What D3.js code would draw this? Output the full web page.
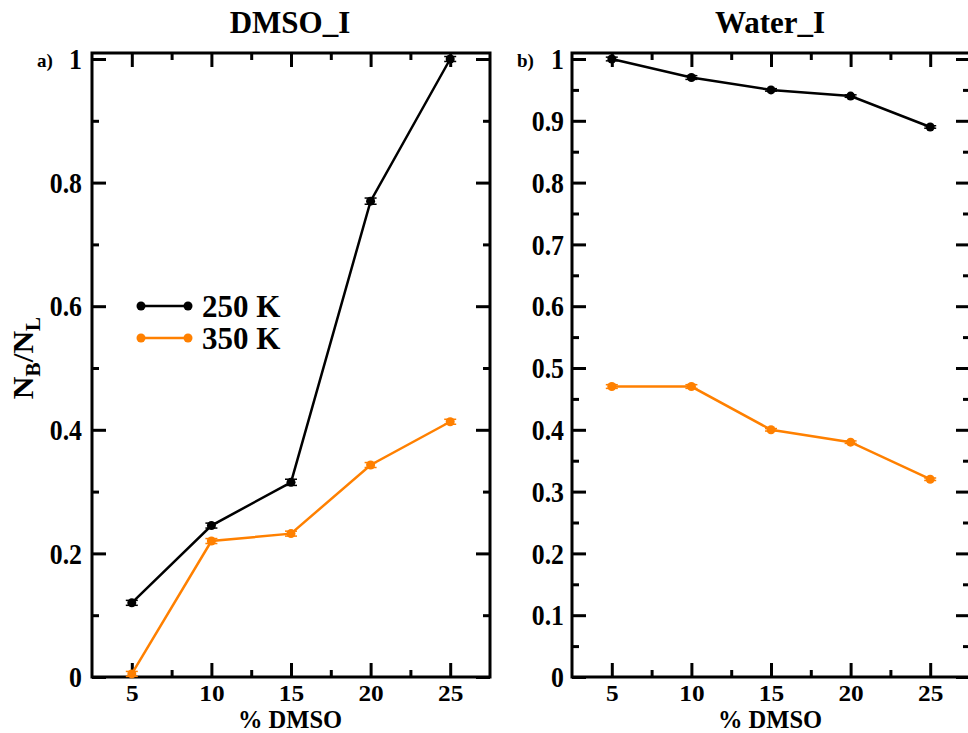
<!DOCTYPE html>
<html>
<head>
<meta charset="utf-8">
<script src="https://cdn.jsdelivr.net/npm/d3@7"></script>
<style>
  html, body { margin: 0; padding: 0; background: #fff; }
  svg { display: block; }
  text { font-family: "Liberation Serif", "Times New Roman", serif; font-weight: bold; fill: #000; }
</style>
</head>
<body>
<svg id="chart" width="968" height="733"></svg>
<script>
// ---- data ----
const dmsoPct = [5, 10, 15, 20, 25];
const seriesNames = ["250 K", "350 K"];
const seriesColors = ["#000000", "#ff8000"];
const dmsoI_250 = [0.12, 0.245, 0.315, 0.77, 1.0];
const dmsoI_350 = [0.005, 0.22, 0.232, 0.343, 0.413];
const dmsoI_250_err = [0.004, 0.004, 0.005, 0.005, 0.004];
const dmsoI_350_err = [0.004, 0.004, 0.004, 0.004, 0.004];
const waterI_250 = [1.0, 0.97, 0.95, 0.94, 0.89];
const waterI_350 = [0.47, 0.47, 0.40, 0.38, 0.32];
const waterI_250_err = [0.003, 0.003, 0.002, 0.002, 0.002];
const waterI_350_err = [0.003, 0.003, 0.002, 0.002, 0.002];
const xMajorTicks = [5, 10, 15, 20, 25];
const xMinorTicks = [7.5, 12.5, 17.5, 22.5];
const leftYMajor = [0, 0.2, 0.4, 0.6, 0.8, 1];
const leftYMinor = [0.1, 0.3, 0.5, 0.7, 0.9];
const rightYMajor = [0, 0.1, 0.2, 0.3, 0.4, 0.5, 0.6, 0.7, 0.8, 0.9, 1];
const rightYMinor = [0.05, 0.15, 0.25, 0.35, 0.45, 0.55, 0.65, 0.75, 0.85, 0.95];

const svg = d3.select("#chart");

const fmtY = d => d === 0 ? "0" : (d === 1 ? "1" : d3.format(".1f")(d));
const panels = [
  { title: "DMSO_I", tag: "a)", left: 92, series: [dmsoI_250, dmsoI_350], errs: [dmsoI_250_err, dmsoI_350_err],
    yMajor: leftYMajor, yMinor: leftYMinor, legend: true, pad: 10 },
  { title: "Water_I", tag: "b)", left: 572, series: [waterI_250, waterI_350], errs: [waterI_250_err, waterI_350_err],
    yMajor: rightYMajor, yMinor: rightYMinor, legend: false, pad: 8 }
];

const W = 398, plotTop = 53, plotBottom = 677;
const XSX = 1.1, YSX = 0.86;

panels.forEach(p => {
  const g = svg.append("g").attr("transform", `translate(${p.left},0)`);
  const x = d3.scaleLinear().domain([2.5, 27.5]).range([0, W]);
  const y = d3.scaleLinear().domain([0, 1.0097]).range([plotBottom, plotTop]);

  const styleAxis = sel => {
    sel.select(".domain").remove();
    sel.selectAll(".tick line").attr("stroke", "#000").attr("stroke-width", 3);
    sel.attr("font-family", null).attr("font-size", null);
  };

  const bx = g.append("g").attr("transform", `translate(0,${plotBottom})`)
    .call(d3.axisBottom(x).tickValues(xMajorTicks).tickSize(-14).tickPadding(8).tickFormat(d3.format("d")));
  styleAxis(bx);
  bx.selectAll("text").attr("font-size", 23).attr("fill", "#000")
    .attr("transform", `scale(${XSX},1)`);
  styleAxis(g.append("g").attr("transform", `translate(0,${plotBottom})`)
    .call(d3.axisBottom(x).tickValues(xMinorTicks).tickSize(-7).tickFormat("")));
  styleAxis(g.append("g").attr("transform", `translate(0,${plotTop})`)
    .call(d3.axisTop(x).tickValues(xMajorTicks).tickSize(-14).tickFormat("")));
  styleAxis(g.append("g").attr("transform", `translate(0,${plotTop})`)
    .call(d3.axisTop(x).tickValues(xMinorTicks).tickSize(-7).tickFormat("")));

  const ly = g.append("g")
    .call(d3.axisLeft(y).tickValues(p.yMajor).tickSize(-14).tickPadding(p.pad).tickFormat(fmtY));
  styleAxis(ly);
  ly.selectAll("text").attr("font-size", 30).attr("fill", "#000")
    .attr("x", -p.pad / YSX).attr("transform", `scale(${YSX},1)`);
  styleAxis(g.append("g").call(d3.axisLeft(y).tickValues(p.yMinor).tickSize(-7).tickFormat("")));
  styleAxis(g.append("g").attr("transform", `translate(${W},0)`)
    .call(d3.axisRight(y).tickValues(p.yMajor).tickSize(-14).tickFormat("")));
  styleAxis(g.append("g").attr("transform", `translate(${W},0)`)
    .call(d3.axisRight(y).tickValues(p.yMinor).tickSize(-7).tickFormat("")));

  g.append("rect").attr("x", 0).attr("y", plotTop).attr("width", W).attr("height", plotBottom - plotTop)
    .attr("fill", "none").attr("stroke", "#000").attr("stroke-width", 3);

  const line = d3.line().x((d, i) => x(dmsoPct[i])).y(d => y(d));
  p.series.forEach((vals, si) => {
    const c = seriesColors[si];
    g.append("path").datum(vals).attr("d", line).attr("fill", "none").attr("stroke", c).attr("stroke-width", 2.5);
    const errs = p.errs[si];
    vals.forEach((v, i) => {
      const cx = x(dmsoPct[i]);
      const e = errs[i];
      g.append("line").attr("x1", cx).attr("x2", cx).attr("y1", y(v - e)).attr("y2", y(v + e)).attr("stroke", c).attr("stroke-width", 1.5);
      [v - e, v + e].forEach(ev => {
        g.append("line").attr("x1", cx - 6).attr("x2", cx + 6).attr("y1", y(ev)).attr("y2", y(ev)).attr("stroke", c).attr("stroke-width", 1.5);
      });
    });
    g.selectAll(null).data(vals).enter().append("circle")
      .attr("cx", (d, i) => x(dmsoPct[i])).attr("cy", d => y(d)).attr("r", 4.5).attr("fill", c);
  });

  g.append("text").attr("x", W / 2 - 1).attr("y", 33).attr("text-anchor", "middle").attr("font-size", 31).text(p.title);
  g.append("text").attr("x", -55).attr("y", 67).attr("font-size", 19).text(p.tag);
  g.append("text").attr("x", W / 2 - 1).attr("y", 727.5).attr("text-anchor", "middle").attr("font-size", 24.5).text("% DMSO");

  if (p.legend) {
    const lg = g.append("g");
    seriesNames.forEach((name, si) => {
      const yy = 306 + si * 32;
      lg.append("line").attr("x1", 49).attr("x2", 96).attr("y1", yy).attr("y2", yy)
        .attr("stroke", seriesColors[si]).attr("stroke-width", 2.5);
      lg.append("circle").attr("cx", 49).attr("cy", yy).attr("r", 4.5).attr("fill", seriesColors[si]);
      lg.append("circle").attr("cx", 96).attr("cy", yy).attr("r", 4.5).attr("fill", seriesColors[si]);
      lg.append("text").attr("x", 110).attr("y", yy + 11).attr("font-size", 31).text(name);
    });
  }
});

const yl = svg.append("text").attr("transform", "translate(33,358) rotate(-90) scale(1.05,1)").attr("text-anchor", "middle").attr("font-size", 30);
yl.append("tspan").text("N");
yl.append("tspan").attr("font-size", 20).attr("dy", 7).text("B");
yl.append("tspan").attr("dy", -7).text("/N");
yl.append("tspan").attr("font-size", 20).attr("dy", 7).text("L");
</script>
</body>
</html>
